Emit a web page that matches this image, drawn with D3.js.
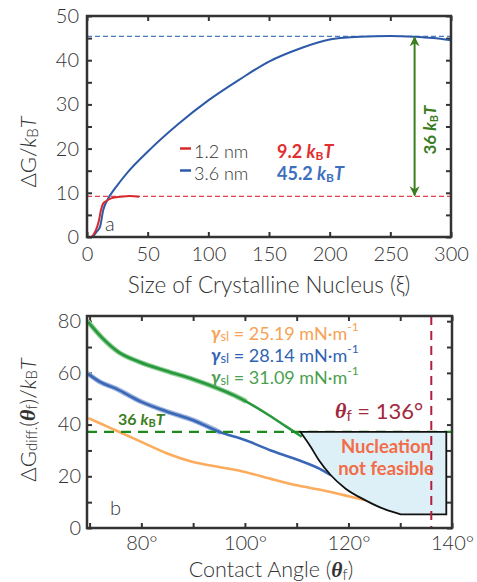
<!DOCTYPE html>
<html>
<head>
<meta charset="utf-8">
<script src="https://cdn.jsdelivr.net/npm/d3@7"></script>
<style>
  body { margin: 0; background: #fff; }
  text { font-family: Lato, 'Open Sans', sans-serif; }
  .light, .tick text { font-family: 'Lato Light', Lato, 'Open Sans', sans-serif; font-weight: 300; }
  .tick text { font-size: 20px; fill: #333; }
</style>
</head>
<body>
<svg width="477" height="582"></svg>
<script>
// panel a: free energy vs nucleus size
const size12 = [3.9, 5.5, 7.4, 9.9, 11.5, 13.4, 16.2, 20.4, 27.2, 35.4, 43.1]
const dg12 = [0, 0.6, 1.6, 3.8, 6.1, 7.6, 8.2, 8.8, 9.1, 9.3, 9.1]
const size36 = [4.7, 8, 10.7, 13.4, 17.6, 21.7, 27.2, 34, 50, 75, 100, 125, 150, 175, 200, 225, 250, 270, 285, 300]
const dg36 = [0, 1.2, 2.3, 6.1, 8.8, 10.5, 12.5, 14.8, 19.3, 25.5, 30.9, 35.5, 39.7, 42.6, 44.7, 45.3, 45.5, 45.3, 45, 44.5]
const barriers = [9.2, 45.4]
const sizeTicks = [0, 50, 100, 150, 200, 250, 300]
const dgTicks = [0, 5, 10, 15, 20, 25, 30, 35, 40, 45, 50]

// panel b: barrier difference vs contact angle
const angOrange = [69.75, 72, 75, 80, 85, 90, 95, 100, 105, 110, 115, 120, 123.3]
const valOrange = [42.5, 40.5, 37.8, 33.3, 28.8, 25.5, 23.6, 21.7, 19, 16.5, 14.6, 12.3, 10.7]
const angBlue = [69.75, 72, 75, 80, 85, 90, 95, 100, 105, 110, 115, 116.6]
const valBlue = [59.6, 56.5, 54, 48.8, 45, 41.7, 37.2, 34, 30, 26.5, 22.3, 20.4]
const angGreen = [69.75, 72.3, 75.6, 79.4, 85.2, 90, 95, 97.7, 100, 104.2, 108, 111]
const valGreen = [79.6, 73.8, 68, 64.4, 60.5, 57.5, 53.8, 51.5, 49.2, 44.2, 39.2, 35.3]
const limitAng = [110.7, 112.7, 114.3, 116.6, 119.4, 123.3, 127.2, 130.1]
const limitVal = [37.2, 31.4, 26.2, 20.4, 15.3, 10.7, 7.1, 5.3]
const regionRight = 138.9
const threshold = 37.2
const thetaF = 136
const angleTicks = [70, 80, 90, 100, 110, 120, 130, 140]
const diffTicks = [0, 10, 20, 30, 40, 50, 60, 70, 80]
const gammas = ['25.19', '28.14', '31.09']

const svg = d3.select('svg')
const defs = svg.append('defs')

// ---------- panel a ----------
const xa = d3.scaleLinear([0, 300], [87, 451])
const ya = d3.scaleLinear([0, 50], [237, 16])

defs.append('clipPath').attr('id', 'clipA').append('rect')
  .attr('x', 87).attr('y', 16).attr('width', 364).attr('height', 221)

const gA = svg.append('g')

const axisStyle = (g) => {
  g.select('.domain').remove()
  g.selectAll('.tick line').attr('stroke', '#333').attr('stroke-width', 2)
}

gA.append('g').attr('transform', 'translate(0,237)')
  .call(d3.axisBottom(xa).tickValues(sizeTicks).tickSize(-5).tickPadding(10))
  .call(axisStyle)
gA.append('g').attr('transform', 'translate(0,16)')
  .call(d3.axisTop(xa).tickValues(sizeTicks).tickSize(-5).tickFormat(''))
  .call(axisStyle)
gA.append('g').attr('transform', 'translate(87,0)')
  .call(d3.axisLeft(ya).tickValues(dgTicks).tickSize(-5).tickPadding(8)
    .tickFormat(d => d % 10 === 0 ? d : ''))
  .call(axisStyle)
gA.append('g').attr('transform', 'translate(451,0)')
  .call(d3.axisRight(ya).tickValues(dgTicks).tickSize(-5).tickFormat(''))
  .call(axisStyle)

const plotA = gA.append('g').attr('clip-path', 'url(#clipA)')

plotA.append('line')
  .attr('x1', 87).attr('x2', 451).attr('y1', ya(barriers[0])).attr('y2', ya(barriers[0]))
  .attr('stroke', '#e8424c').attr('stroke-width', 1.3).attr('stroke-dasharray', '5,3')
plotA.append('line')
  .attr('x1', 87).attr('x2', 451).attr('y1', ya(barriers[1])).attr('y2', ya(barriers[1]))
  .attr('stroke', '#4a78c4').attr('stroke-width', 1.3).attr('stroke-dasharray', '5,3')

const lineA = d3.line().x(d => xa(d[0])).y(d => ya(d[1])).curve(d3.curveMonotoneX)
plotA.append('path').datum(d3.zip(size36, dg36)).attr('d', lineA)
  .attr('fill', 'none').attr('stroke', '#2c5aa8').attr('stroke-width', 2)
plotA.append('path').datum(d3.zip(size12, dg12)).attr('d', lineA)
  .attr('fill', 'none').attr('stroke', '#d62a2e').attr('stroke-width', 2)

// double arrow for barrier difference
const addArrowHead = (id, color) => {
  defs.append('marker').attr('id', id)
    .attr('viewBox', '0 0 10 10').attr('refX', 9).attr('refY', 5)
    .attr('markerWidth', 5).attr('markerHeight', 6).attr('orient', 'auto-start-reverse')
    .attr('markerUnits', 'strokeWidth')
    .append('path').attr('d', 'M0,0 L10,5 L0,10 L3,5 z').attr('fill', color)
}
addArrowHead('arrowGreen', '#3b7d1f')
gA.append('line')
  .attr('x1', xa(270)).attr('x2', xa(270))
  .attr('y1', ya(barriers[1]) + 1).attr('y2', ya(barriers[0]) - 1)
  .attr('stroke', '#3b7d1f').attr('stroke-width', 2)
  .attr('marker-start', 'url(#arrowGreen)').attr('marker-end', 'url(#arrowGreen)')

const diffLabel = gA.append('text')
  .attr('transform', 'translate(429,130) rotate(-90)')
  .attr('text-anchor', 'middle').attr('dominant-baseline', 'central')
  .attr('font-size', 17).attr('font-weight', 700).attr('fill', '#3b7d1f')
diffLabel.append('tspan').text('36 ')
diffLabel.append('tspan').attr('font-style', 'italic').text('k')
diffLabel.append('tspan').attr('font-size', 11).attr('dy', 4).text('B')
diffLabel.append('tspan').attr('font-style', 'italic').attr('dy', -4).text('T')

gA.append('rect').attr('x', 87).attr('y', 16).attr('width', 364).attr('height', 221)
  .attr('fill', 'none').attr('stroke', '#333').attr('stroke-width', 2.5)

// legend
const legendA = [
  { label: '1.2 nm', value: '9.2', color: '#d62a2e', text: '#e0302f', y: 151 },
  { label: '3.6 nm', value: '45.2', color: '#2c5aa8', text: '#3d6fbe', y: 173 },
]
legendA.forEach(d => {
  gA.append('line').attr('x1', 180).attr('x2', 191).attr('y1', d.y - 2.5).attr('y2', d.y - 2.5)
    .attr('stroke', d.color).attr('stroke-width', 2.5)
  gA.append('text').attr('class', 'light').attr('x', 194).attr('y', d.y).attr('dominant-baseline', 'central')
    .attr('font-size', 18).attr('fill', '#333').text(d.label)
  const t = gA.append('text').attr('x', 277).attr('y', d.y).attr('dominant-baseline', 'central')
    .attr('font-size', 18).attr('font-weight', 700).attr('fill', d.text)
  t.append('tspan').text(d.value + ' ')
  t.append('tspan').attr('font-style', 'italic').text('k')
  t.append('tspan').attr('font-size', 12).attr('dy', 4).text('B')
  t.append('tspan').attr('font-style', 'italic').attr('dy', -4).text('T')
})

gA.append('text').attr('class', 'light').attr('x', 105).attr('y', 223).attr('dominant-baseline', 'central')
  .attr('font-size', 20).attr('fill', '#333').text('a')

gA.append('text').attr('class', 'light').attr('x', 269).attr('y', 293).attr('text-anchor', 'middle')
  .attr('font-size', 22.5).attr('fill', '#333')
  .text('Size of Crystalline Nucleus (ξ)')

const yTitleA = gA.append('text').attr('class', 'light')
  .attr('transform', 'translate(27,152) rotate(-90)')
  .attr('text-anchor', 'middle').attr('dominant-baseline', 'central')
  .attr('font-size', 22).attr('fill', '#333')
yTitleA.append('tspan').text('ΔG/')
yTitleA.append('tspan').attr('font-style', 'italic').text('k')
yTitleA.append('tspan').attr('font-size', 15).attr('dy', 5).text('B')
yTitleA.append('tspan').attr('font-style', 'italic').attr('dy', -5).text('T')

// ---------- panel b ----------
const xb = d3.scaleLinear([69.5, 140], [87, 452])
const yb = d3.scaleLinear([0, 82], [528, 316])

defs.append('clipPath').attr('id', 'clipB').append('rect')
  .attr('x', 87).attr('y', 316).attr('width', 365).attr('height', 212)

const gB = svg.append('g')

gB.append('g').attr('transform', 'translate(0,528)')
  .call(d3.axisBottom(xb).tickValues(angleTicks).tickSize(-5).tickPadding(8)
    .tickFormat(d => d % 20 === 0 ? d + '°' : ''))
  .call(axisStyle)
gB.append('g').attr('transform', 'translate(0,316)')
  .call(d3.axisTop(xb).tickValues(angleTicks).tickSize(-5).tickFormat(''))
  .call(axisStyle)
gB.append('g').attr('transform', 'translate(87,0)')
  .call(d3.axisLeft(yb).tickValues(diffTicks).tickSize(-5).tickPadding(6)
    .tickFormat(d => d % 20 === 0 ? d : ''))
  .call(axisStyle)
gB.append('g').attr('transform', 'translate(452,0)')
  .call(d3.axisRight(yb).tickValues(diffTicks).tickSize(-5).tickFormat(''))
  .call(axisStyle)

const plotB = gB.append('g').attr('clip-path', 'url(#clipB)')
const lineB = d3.line().x(d => xb(d[0])).y(d => yb(d[1])).curve(d3.curveMonotoneX)

// error band is only visible on the steep early part of the curves
const seriesB = [
  { ang: angOrange, val: valOrange, color: '#fdab5c', band: null, bandEnd: 0 },
  { ang: angBlue, val: valBlue, color: '#3a67b6', band: '#9db4de', bandEnd: 96 },
  { ang: angGreen, val: valGreen, color: '#27993c', band: '#8fce97', bandEnd: 101 },
]
seriesB.forEach(s => {
  const pts = d3.zip(s.ang, s.val)
  if (s.band) {
    plotB.append('path').datum(pts.filter(p => p[0] <= s.bandEnd)).attr('d', lineB)
      .attr('fill', 'none').attr('stroke', s.band).attr('stroke-width', 5)
      .attr('stroke-linecap', 'round')
  }
  plotB.append('path').datum(pts).attr('d', lineB)
    .attr('fill', 'none').attr('stroke', s.color).attr('stroke-width', 2.6)
})

plotB.append('line')
  .attr('x1', 87).attr('x2', 452).attr('y1', yb(threshold)).attr('y2', yb(threshold))
  .attr('stroke', '#1e8a1e').attr('stroke-width', 2.3).attr('stroke-dasharray', '10,7')

// infeasible region
const limitPts = d3.zip(limitAng, limitVal)
const limitPath = lineB(limitPts)
const last = limitPts[limitPts.length - 1]
plotB.append('path')
  .attr('d', limitPath +
    `L${xb(regionRight)},${yb(last[1])}L${xb(regionRight)},${yb(threshold)}Z`)
  .attr('fill', '#def0f7').attr('stroke', '#111').attr('stroke-width', 1.8)
  .attr('stroke-linejoin', 'miter')

plotB.append('line')
  .attr('x1', xb(thetaF)).attr('x2', xb(thetaF)).attr('y1', 316).attr('y2', 528)
  .attr('stroke', '#b3203d').attr('stroke-width', 2).attr('stroke-dasharray', '9,6')

gB.append('rect').attr('x', 87).attr('y', 316).attr('width', 365).attr('height', 212)
  .attr('fill', 'none').attr('stroke', '#333').attr('stroke-width', 2.5)

// legend
const legendColors = ['#f7a254', '#2f64b4', '#4b9f50']
gammas.forEach((g, i) => {
  const t = gB.append('text').attr('x', 211).attr('y', 333 + i * 22)
    .attr('dominant-baseline', 'central').attr('font-size', 18).attr('fill', legendColors[i])
  t.append('tspan').attr('font-weight', 700).attr('font-style', 'italic').text('γ')
  t.append('tspan').attr('font-size', 13).attr('dy', 3).text('sl')
  t.append('tspan').attr('dy', -3).text(` = ${g} mN·m`)
  t.append('tspan').attr('font-size', 12).attr('dy', -7).text('-1')
})

const kLabel = gB.append('text').attr('x', 118).attr('y', 418)
  .attr('dominant-baseline', 'central').attr('font-size', 16).attr('font-weight', 700)
  .attr('fill', '#3b7d1f')
kLabel.append('tspan').text('36 ')
kLabel.append('tspan').attr('font-style', 'italic').text('k')
kLabel.append('tspan').attr('font-size', 11).attr('dy', 4).text('B')
kLabel.append('tspan').attr('font-style', 'italic').attr('dy', -4).text('T')

const thetaLabel = gB.append('text').attr('x', 335).attr('y', 410)
  .attr('dominant-baseline', 'central').attr('font-size', 22).attr('fill', '#a3283c')
thetaLabel.append('tspan').attr('font-family', "'Liberation Serif', serif")
  .attr('font-style', 'italic').attr('font-weight', 700).text('θ')
thetaLabel.append('tspan').attr('font-size', 15).attr('dy', 5).text('f')
thetaLabel.append('tspan').attr('dy', -5).text(' = 136°')

const noteB = gB.append('text').attr('text-anchor', 'middle')
  .attr('font-size', 18.5).attr('font-weight', 700).attr('fill', '#f26c47')
noteB.append('tspan').attr('x', 386).attr('y', 453).text('Nucleation')
noteB.append('tspan').attr('x', 386).attr('y', 475).text('not feasible')

gB.append('text').attr('class', 'light').attr('x', 110).attr('y', 507).attr('dominant-baseline', 'central')
  .attr('font-size', 20).attr('fill', '#333').text('b')

const xTitleB = gB.append('text').attr('class', 'light').attr('x', 271).attr('y', 577).attr('text-anchor', 'middle')
  .attr('font-size', 21.5).attr('fill', '#333')
xTitleB.append('tspan').text('Contact Angle (')
xTitleB.append('tspan').attr('font-family', "'Liberation Serif', serif")
  .attr('font-style', 'italic').attr('font-weight', 700).text('θ')
xTitleB.append('tspan').attr('font-size', 15).attr('dy', 3).text('f')
xTitleB.append('tspan').attr('dy', -3).text(')')

const yTitleB = gB.append('text').attr('class', 'light')
  .attr('transform', 'translate(27,420) rotate(-90)')
  .attr('text-anchor', 'middle').attr('dominant-baseline', 'central')
  .attr('font-size', 22).attr('fill', '#333')
yTitleB.append('tspan').text('ΔG')
yTitleB.append('tspan').attr('font-size', 15).attr('dy', 4).text('diff.')
yTitleB.append('tspan').attr('dy', -4).text('(')
yTitleB.append('tspan').attr('font-family', "'Liberation Serif', serif")
  .attr('font-style', 'italic').attr('font-weight', 700).text('θ')
yTitleB.append('tspan').attr('font-size', 15).attr('dy', 4).text('f')
yTitleB.append('tspan').attr('dy', -4).text(')/')
yTitleB.append('tspan').attr('font-style', 'italic').text('k')
yTitleB.append('tspan').attr('font-size', 15).attr('dy', 4).text('B')
yTitleB.append('tspan').attr('font-style', 'italic').attr('dy', -4).text('T')
</script>
</body>
</html>
